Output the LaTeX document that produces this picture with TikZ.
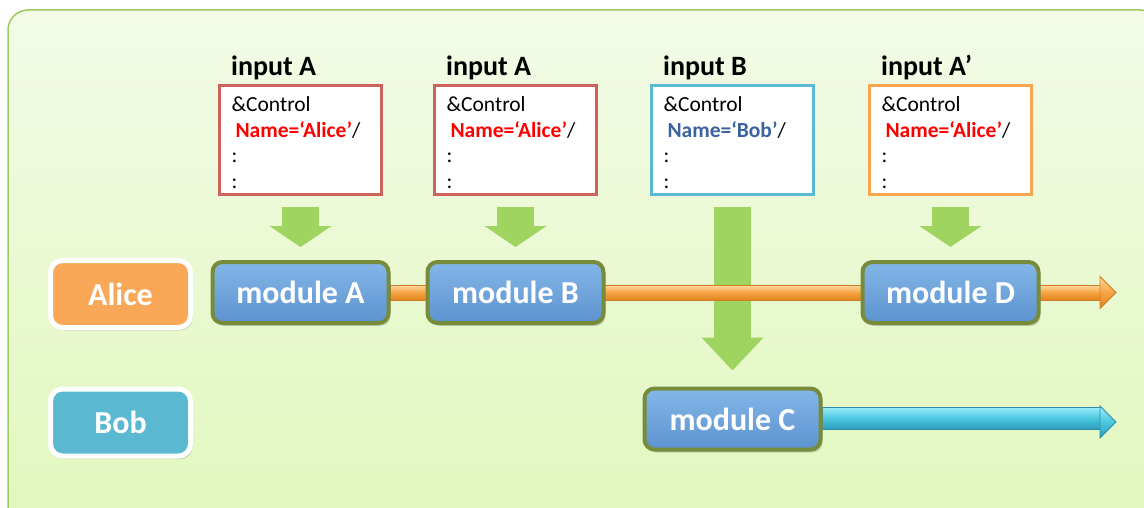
\documentclass[tikz,border=0pt]{standalone}
\usepackage{fontspec}
\setmainfont{Carlito}
\usetikzlibrary{arrows.meta,shadows,calc}
\pgfdeclarelayer{back}
\pgfdeclarelayer{mid}
\pgfsetlayers{back,mid,main}

\definecolor{panelTop}{HTML}{F3FBE7}
\definecolor{panelBot}{HTML}{E1F7BD}
\definecolor{panelLine}{HTML}{9CC95E}
\definecolor{boxRed}{HTML}{CF625D}
\definecolor{boxBlue}{HTML}{5AB9D3}
\definecolor{boxOrange}{HTML}{F8A550}
\definecolor{nameRed}{HTML}{FF0000}
\definecolor{nameBlue}{HTML}{3A63A0}
\definecolor{flowGreen}{HTML}{A0D460}
\definecolor{modTop}{HTML}{84B6E8}
\definecolor{modBot}{HTML}{5C93CF}
\definecolor{modEdge}{HTML}{768C3A}
\definecolor{aliceFill}{HTML}{F9A858}
\definecolor{bobFill}{HTML}{5BB8D1}
\definecolor{orTop}{HTML}{FFD8A0}
\definecolor{orMid}{HTML}{F7A343}
\definecolor{orBot}{HTML}{E0851F}
\definecolor{orEdge}{HTML}{D27E22}
\definecolor{cyTop}{HTML}{9BEFFB}
\definecolor{cyMid}{HTML}{4CC6E0}
\definecolor{cyBot}{HTML}{2C9DBA}
\definecolor{cyEdge}{HTML}{2A8FAA}

\newcommand{\firstline}{\rule{0pt}{20.5pt}}

\begin{document}
\begin{tikzpicture}[x=1pt,y=-1pt,
  inbox/.style={draw=#1, line width=3pt, fill=white,
    minimum width=162pt, minimum height=109pt,
    text width=138pt, inner xsep=12pt, align=left,
    font=\fontsize{21.5}{25.5}\selectfont},
  inlabel/.style={anchor=base west, inner sep=0pt,
    font=\fontsize{28}{30}\selectfont\bfseries},
  module/.style={draw=modEdge, line width=4pt, rounded corners=10pt,
    top color=modTop, bottom color=modBot,
    minimum width=176pt, minimum height=61pt,
    text=white, font=\fontsize{32}{34}\selectfont\bfseries,
    drop shadow={opacity=0.35, shadow xshift=2pt, shadow yshift=-3pt}},
  actor/.style={draw=white, line width=5pt, rounded corners=12pt, fill=#1,
    minimum width=140pt, minimum height=67pt,
    text=white, font=\fontsize{32}{34}\selectfont\bfseries,
    drop shadow={opacity=0.3, shadow xshift=2pt, shadow yshift=-3pt}},
  feed/.style={draw=flowGreen, line width=37pt},
  shaftpaint/.style={draw=#1, line width=0.8pt},
]
\useasboundingbox (0,0) rectangle (1144,508);

% background panel
\begin{pgfonlayer}{back}
  \clip (0,0) rectangle (1144,508);
  \path[draw=panelLine, line width=1.5pt, rounded corners=20pt,
        top color=panelTop, bottom color=panelBot]
    (8,10) rectangle (1160,530);
\end{pgfonlayer}

% input namelists
\node[inbox=boxRed] (inA1) at (300.5,140)
  {\firstline\&Control\\\hspace*{4pt}\textcolor{nameRed}{\textbf{Name=‘Alice’}}/\\:\\:};
\node[inbox=boxRed] (inA2) at (515.5,140)
  {\firstline\&Control\\\hspace*{4pt}\textcolor{nameRed}{\textbf{Name=‘Alice’}}/\\:\\:};
\node[inbox=boxBlue] (inB) at (732.5,140)
  {\firstline\&Control\\\hspace*{4pt}\textcolor{nameBlue}{\textbf{Name=‘Bob’}}/\\:\\:};
\node[inbox=boxOrange] (inA3) at (950.5,140)
  {\firstline\&Control\\\hspace*{4pt}\textcolor{nameRed}{\textbf{Name=‘Alice’}}/\\:\\:};

\node[inlabel] (labA1) at ($(inA1.north west)+(13,-8)$) {input A};
\node[inlabel] (labA2) at ($(inA2.north west)+(13,-8)$) {input A};
\node[inlabel] (labB)  at ($(inB.north west)+(13,-8)$)  {input B};
\node[inlabel] (labA3) at ($(inA3.north west)+(13,-8)$) {input A’};

% actors
\node[actor=aliceFill] (alice) at (120.5,294) {Alice};
\node[actor=bobFill]   (bob)   at (120.5,422.5) {Bob};

% modules
\node[module] (modA) at (300.5,292.5) {module A};
\node[module] (modB) at (515.5,292.5) {module B};
\node[module] (modD) at (950.5,292.5) {module D};
\node[module] (modC) at (732.5,419) {module C};

\coordinate (aliceEnd) at (1116,292.5);
\coordinate (bobEnd)   at (1116,422);

\begin{pgfonlayer}{mid}
  % inputs feeding the modules
  \draw[feed, -{Triangle[length=21pt,width=62pt,line width=0pt]}]
    ([yshift=-11pt]inA1.south) -- ([yshift=13pt]modA.north);
  \draw[feed, -{Triangle[length=21pt,width=62pt,line width=0pt]}]
    ([yshift=-11pt]inA2.south) -- ([yshift=13pt]modB.north);
  \draw[feed, -{Triangle[length=21pt,width=62pt,line width=0pt]}]
    ([yshift=-11pt]inA3.south) -- ([yshift=13pt]modD.north);
  \draw[feed, -{Triangle[length=33pt,width=62pt,line width=0pt]}]
    ([yshift=-11pt]inB.south) -- ([yshift=16pt]modC.north);

  % Alice's run
  \path[shaftpaint=orEdge, top color=orTop, bottom color=orBot, middle color=orMid]
    ([yshift=7.5pt]modA.east) rectangle ([xshift=-16pt,yshift=-7.5pt]aliceEnd);
  \path[shaftpaint=orEdge, top color=orTop, bottom color=orBot, middle color=orMid]
    ([xshift=-16pt,yshift=16pt]aliceEnd) -- (aliceEnd)
    -- ([xshift=-16pt,yshift=-16pt]aliceEnd) -- cycle;

  % Bob's run
  \path[shaftpaint=cyEdge, top color=cyTop, bottom color=cyBot, middle color=cyMid]
    ([yshift=7.5pt]modC.east |- bobEnd) ++(0,-7.5) rectangle ([xshift=-16pt,yshift=-7.5pt]bobEnd);
  \path[shaftpaint=cyEdge, top color=cyTop, bottom color=cyBot, middle color=cyMid]
    ([xshift=-16pt,yshift=16pt]bobEnd) -- (bobEnd)
    -- ([xshift=-16pt,yshift=-16pt]bobEnd) -- cycle;
\end{pgfonlayer}
\end{tikzpicture}
\end{document}
